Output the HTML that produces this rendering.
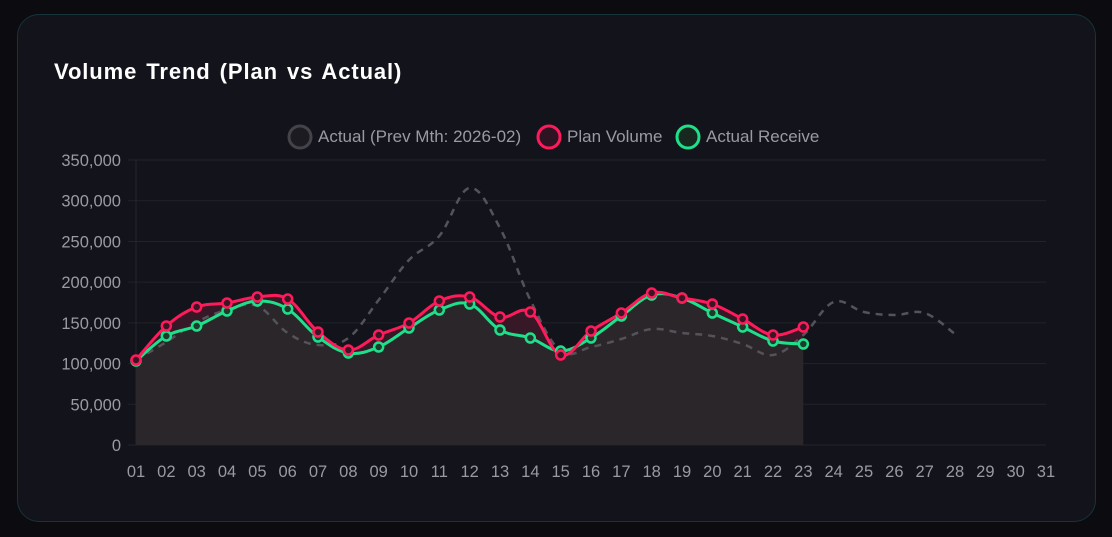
<!DOCTYPE html>
<html><head><meta charset="utf-8"><style>
html,body{margin:0;padding:0;width:1112px;height:537px;overflow:hidden;background:#0b0b10;font-family:"Liberation Sans",sans-serif}
.card{position:absolute;left:17px;top:14px;width:1077px;height:506px;border:1px solid #17343a;border-radius:22px;background:#13131b}
h1{position:absolute;left:36px;top:44px;margin:0;font-size:22px;color:#fff;font-weight:bold;letter-spacing:0.9px;word-spacing:2px}
svg{position:absolute;left:0;top:0}
</style></head><body>
<div class="card"><h1>Volume Trend (Plan vs Actual)</h1></div>
<svg id="s" width="1112" height="537" font-family="Liberation Sans, sans-serif"></svg>
<script>
const X=i=>136+(i-1)*30.333;
const plan=[360,326,307,303,297,299,332,350,335,323,301,297,317,312,355,331,313,293,298,304,319,335,327];
const act=[361,336,326,311,301,309,337,353,347,328,310,304,330,338,351,338,316,295,298,313,327,341,344];
const prev=[360,342,322,310,306,333,345,338,300,260,236,188,228,300,351,347,339,329,333,336,344,355,335,302,312,315,313,334];
function pts(a){return a.map((y,i)=>[X(i+1),y]);}
function curve(p){let d="M"+p[0][0]+","+p[0][1];for(let i=0;i<p.length-1;i++){const p0=p[i-1]||p[i],p1=p[i],p2=p[i+1],p3=p[i+2]||p2;const t=0.18;d+=` C${p1[0]+(p2[0]-p0[0])*t},${p1[1]+(p2[1]-p0[1])*t} ${p2[0]-(p3[0]-p1[0])*t},${p2[1]-(p3[1]-p1[1])*t} ${p2[0]},${p2[1]}`;}return d;}
let h="";
const labs=["0","50,000","100,000","150,000","200,000","250,000","300,000","350,000"];
for(let k=0;k<8;k++){const y=445-k*40.71;h+=`<line x1="128" x2="1046" y1="${y}" y2="${y}" stroke="#23232b" stroke-width="1"/><text x="121" y="${y+6}" text-anchor="end" font-size="16.5" fill="#9a9aa2">${labs[k]}</text>`;}
h+=`<line x1="136" x2="136" y1="160" y2="445" stroke="#26262e"/>`;
for(let i=1;i<=31;i++)h+=`<text x="${X(i)}" y="477" text-anchor="middle" font-size="16.5" fill="#9a9aa2">${String(i).padStart(2,"0")}</text>`;
const pp=pts(plan),pa=pts(act),pv=pts(prev);
const cp=curve(pp),ca=curve(pa);
h+=`<path d="${cp} L${X(23)},445 L136,445Z" fill="#2a2629"/>`;
const rev=curve(pa.slice().reverse()).replace(/^M/,"L");
h+=`<path d="${cp} ${rev} Z" fill="#3a1527" opacity="0.8"/>`;
h+=`<path d="${curve(pv)}" fill="none" stroke="#55535a" stroke-width="2.5" stroke-dasharray="7,6"/>`;
h+=`<path d="${ca}" fill="none" stroke="#1ee08a" stroke-width="3"/>`;
h+=`<path d="${cp}" fill="none" stroke="#ff1a5a" stroke-width="3"/>`;
pa.forEach(p=>h+=`<circle cx="${p[0]}" cy="${p[1]}" r="4.5" fill="#1f3a2c" stroke="#1ee08a" stroke-width="2.5"/>`);
pp.forEach(p=>h+=`<circle cx="${p[0]}" cy="${p[1]}" r="4.5" fill="#3a1527" stroke="#ff1a5a" stroke-width="2.5"/>`);
h+=`<circle cx="300" cy="137" r="11" fill="#1c1b22" stroke="#444349" stroke-width="3"/><text x="318" y="142" font-size="17" fill="#9a9aa2">Actual (Prev Mth: 2026-02)</text>`;
h+=`<circle cx="549" cy="137" r="11" fill="#2e1422" stroke="#ff1a5a" stroke-width="3"/><text x="567" y="142" font-size="17" fill="#9a9aa2">Plan Volume</text>`;
h+=`<circle cx="688" cy="137" r="11" fill="#17281f" stroke="#1ee08a" stroke-width="3"/><text x="706" y="142" font-size="17" fill="#9a9aa2">Actual Receive</text>`;
document.getElementById("s").innerHTML=h;
</script>
</body></html>
